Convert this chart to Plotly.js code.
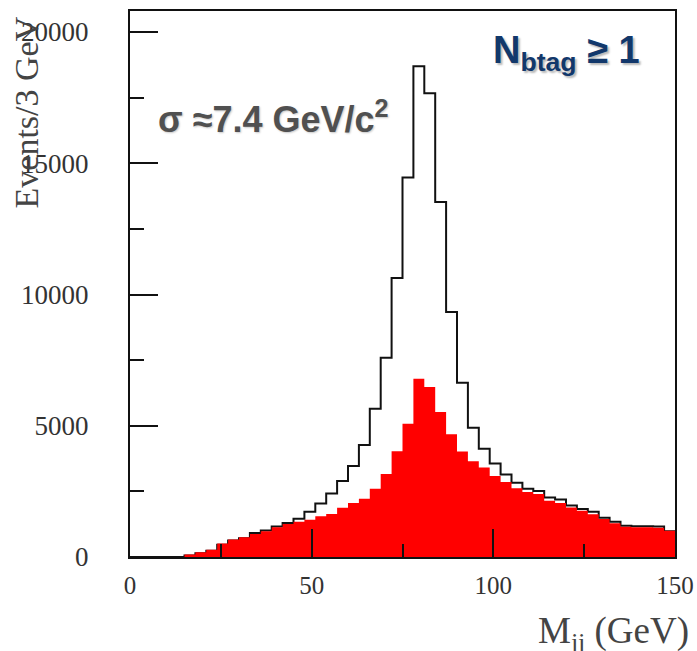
<!DOCTYPE html>
<html>
<head>
<meta charset="utf-8">
<script src="https://cdn.plot.ly/plotly-3.0.1.min.js"></script>
<style>html,body{margin:0;padding:0;background:#fff;}#chart{width:697px;height:651px;}</style>
</head>
<body>
<div id="chart"></div>
<script>
// Bin lower edges (GeV), 3 GeV bins
const binLow = [0,3,6,9,12,15,18,21,24,27,30,33,36,39,42,45,48,51,54,57,60,63,66,69,72,75,78,81,84,87,90,93,96,99,102,105,108,111,114,117,120,123,126,129,132,135,138,141,144,147];
const binWidth = 3;
// Total (black outline) events / 3 GeV
const totalEvents = [0,0,0,0,0,60,140,240,470,625,710,910,1010,1160,1300,1460,1720,2040,2420,2900,3470,4270,5650,7590,10630,14460,18700,17670,13520,9330,6640,4920,4120,3560,3140,2830,2600,2510,2270,2190,1960,1830,1720,1500,1340,1190,1170,1170,1160,980];
// b-tagged (red filled) events / 3 GeV
const btagEvents = [0,0,0,0,0,100,180,280,510,665,750,880,980,1130,1260,1340,1420,1550,1640,1880,2060,2220,2600,3160,4030,5080,6790,6480,5520,4680,4020,3650,3410,3090,2860,2620,2480,2400,2140,2060,1890,1760,1630,1445,1290,1150,1130,1130,1110,1000];
const xTickVals = [0,50,100,150];
const yTickVals = [0,5000,10000,15000,20000];

const edges = binLow.concat([binLow[binLow.length-1] + binWidth]);
const stepY = arr => arr.concat([arr[arr.length-1]]);

const traces = [
  {type:'scatter', mode:'lines', x: edges, y: stepY(totalEvents),
   line:{shape:'hv', color:'#111', width:2}, hoverinfo:'skip', showlegend:false},
  {type:'scatter', mode:'lines', x: edges, y: stepY(btagEvents),
   line:{shape:'hv', color:'#ff0000', width:0}, fill:'tozeroy', fillcolor:'#ff0000',
   hoverinfo:'skip', showlegend:false}
];

const serif = 'Liberation Serif, Times New Roman, serif';
const sans = 'Liberation Sans, Arial, sans-serif';

const layout = {
  width:697, height:651,
  margin:{l:130, r:22, t:11, b:94},
  paper_bgcolor:'#fff', plot_bgcolor:'#fff',
  showlegend:false,
  xaxis:{range:[0,150], tickvals:xTickVals, ticktext:xTickVals.map(String),
    showgrid:false, zeroline:false, showline:true, linecolor:'#111', linewidth:2, mirror:true,
    ticks:'inside', ticklen:28, tickwidth:2, tickcolor:'#111',
    minor:{dtick:25, tick0:0, ticks:'inside', ticklen:13, tickwidth:2, tickcolor:'#111', showgrid:false},
    tickfont:{family:serif, size:25, color:'#333'}, ticklabelstandoff:5, layer:'above traces'},
  yaxis:{range:[0,20800], tickvals:yTickVals, ticktext:yTickVals.map(String),
    showgrid:false, zeroline:false, showline:true, linecolor:'#111', linewidth:2, mirror:true,
    ticks:'inside', ticklen:28, tickwidth:2, tickcolor:'#111',
    minor:{dtick:2500, tick0:0, ticks:'inside', ticklen:14, tickwidth:2, tickcolor:'#111', showgrid:false},
    tickfont:{family:serif, size:27, color:'#333'}, ticklabelstandoff:34, layer:'above traces'},
  annotations:[
    {text:'Events/3 GeV', xref:'paper', yref:'paper', x:-0.19, y:0.815, xanchor:'center', yanchor:'middle',
     textangle:-90, showarrow:false, font:{family:serif, size:34, color:'#444'}},
    {text:'M<sub>jj</sub> (GeV)', xref:'paper', yref:'paper', x:1.03, y:-0.14, xanchor:'right', yanchor:'middle',
     showarrow:false, font:{family:serif, size:37, color:'#444'}},
    {text:'<b>σ ≈7.4 GeV/c<sup>2</sup></b>', xref:'paper', yref:'paper', x:0.047, y:0.806, xanchor:'left', yanchor:'middle',
     showarrow:false, font:{family:sans, size:36, color:'#505050', shadow:'1px 1px 2px #c8c8c8'}},
    {text:'<b>N<sub>btag</sub> ≥ 1</b>', xref:'paper', yref:'paper', x:0.662, y:0.97, xanchor:'left', yanchor:'top',
     showarrow:false, font:{family:sans, size:38, color:'#12386b', shadow:'2px 2px 2px #b8b8b8'}}
  ]
};

Plotly.newPlot('chart', traces, layout, {staticPlot:true, displayModeBar:false});
</script>
</body>
</html>
